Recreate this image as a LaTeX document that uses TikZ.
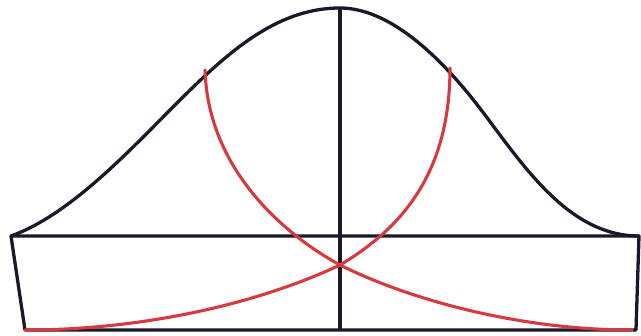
\documentclass[tikz,border=0pt]{standalone}
\usepackage{tikz}
\definecolor{Ink}{HTML}{1C1729}
\definecolor{Tail}{HTML}{D63A40}

\begin{document}
\begin{tikzpicture}[x=1pt,y=-1pt,
  ink/.style={draw=Ink,line width=3.3pt,line join=round},
  tail/.style={draw=Tail,line width=3.1pt,line cap=round}]
  \useasboundingbox (0,0) rectangle (641,336);
  % base box and axis
  \coordinate (tl) at (11,236);
  \coordinate (tr) at (639,236);
  \coordinate (bl) at (25,330);
  \coordinate (br) at (636,330);
  \coordinate (peak) at (340,8);
  \coordinate (foot) at (340,330);
  \coordinate (cross) at (340,265);
  \coordinate (lhit) at (205,70);
  \coordinate (rhit) at (450,68);
  \coordinate (rend) at (632,330);
  \draw[ink] (tl) -- (tr) -- (br) -- (bl) -- cycle;
  \draw[ink] (peak) -- (foot);
  % bell
  \draw[ink] (tl) .. controls (70,215) and (130,150) .. (175,105)
    .. controls (225,55) and (275,8) .. (peak)
    .. controls (395,8) and (450,68) .. (485,115)
    .. controls (525,168) and (570,236) .. (tr);
  % tails
  \draw[tail] (lhit) .. controls (208,170) and (285,235) .. (cross)
    .. controls (410,300) and (520,330) .. (rend);
  \draw[tail] (rhit) .. controls (450,180) and (395,232) .. (cross)
    .. controls (255,305) and (140,330) .. (bl);
\end{tikzpicture}
\end{document}
